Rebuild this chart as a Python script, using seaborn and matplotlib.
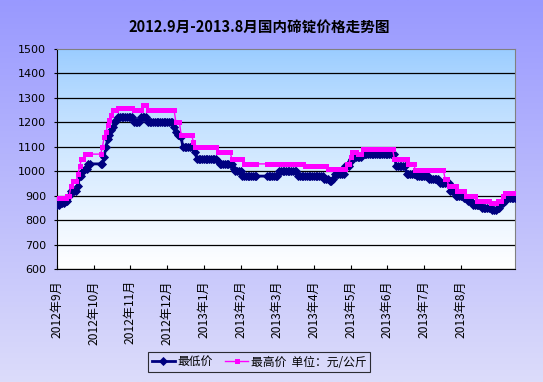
import numpy as np
import pandas as pd
import seaborn as sns
import matplotlib.pyplot as plt
from matplotlib.colors import LinearSegmentedColormap

# =========================
# 数据：按交易日，(价格, 持续天数)，NaN 为假期空缺
# =========================

month_labels = ["2012年9月", "2012年10月", "2012年11月", "2012年12月",
                "2013年1月", "2013年2月", "2013年3月", "2013年4月",
                "2013年5月", "2013年6月", "2013年7月", "2013年8月"]
days_per_tick = 21

low_vals = [860, 870, 880, 900, 920, 940, 980, 1000, 1010, 1030, np.nan, 1030,
            1060, 1100, 1130, 1150, 1170, 1180, 1200, 1210, 1220, 1200, 1220, 1200,
            1180, 1160, 1150, 1140, 1100, 1080, 1050, 1040, 1030, 1010, 1000, 980,
            np.nan, 980, 1000, 980, 970, 960, 970, 990, 1020, 1040, 1050, 1060,
            1070, 1020, 990, 980, 970, 950, 920, 900, 890, 880, 860, 850,
            840, 850, 870, 880, 890]
low_days = [2, 3, 2, 1, 4, 1, 2, 1, 2, 2, 5, 2,
            1, 1, 1, 1, 1, 1, 1, 1, 9, 4, 4, 15,
            1, 1, 2, 1, 7, 1, 12, 1, 8, 1, 4, 9,
            5, 7, 11, 15, 3, 2, 1, 6, 3, 1, 1, 5,
            19, 6, 6, 7, 6, 6, 3, 5, 2, 3, 5, 6,
            3, 2, 2, 1, 6]

high_vals = [890, 900, 940, 960, 990, 1020, 1050, 1070, np.nan, 1070, 1100, 1140,
             1160, 1190, 1210, 1230, 1250, 1260, 1250, 1270, 1250, 1200, 1150, 1120,
             1100, 1080, 1050, 1030, np.nan, 1030, 1020, 1010, 1030, 1060, 1080, 1070,
             1090, 1050, 1030, 1005, 970, 940, 920, 900, 880, 870, 880, 900, 910]
high_days = [6, 2, 1, 3, 1, 1, 2, 4, 5, 1, 1, 1,
             1, 1, 1, 1, 3, 9, 5, 3, 16, 3, 7, 1,
             13, 8, 7, 8, 5, 22, 13, 11, 2, 1, 3, 3,
             18, 8, 4, 17, 2, 5, 5, 6, 8, 4, 3, 1, 7]

low = np.repeat(np.array(low_vals, dtype=float), low_days)
high = np.repeat(np.array(high_vals, dtype=float), high_days)
n = len(low)

df = pd.DataFrame({"day": np.arange(n), "最低价": low, "最高价": high})

plt.rcParams["font.family"] = ["Noto Sans CJK SC", "DejaVu Sans"]
plt.rcParams["axes.unicode_minus"] = False

fig = plt.figure(figsize=(5.43, 3.82), dpi=100)

# 背景渐变
bg = fig.add_axes([0, 0, 1, 1], zorder=-10)
bg_cmap = LinearSegmentedColormap.from_list("bg", ["#9999FF", "#DCDCFA"])
bg.imshow(np.linspace(0, 1, 256).reshape(-1, 1), cmap=bg_cmap, aspect="auto",
          extent=[0, 1, 0, 1])
bg.set_axis_off()

ax = fig.add_axes([57 / 543, 1 - 269 / 382, 458 / 543, 220 / 382])
ax.set_facecolor("none")
plot_cmap = LinearSegmentedColormap.from_list("pa", ["#99CCFF", "#FFFFFF"])
ax.imshow(np.linspace(0, 1, 256).reshape(-1, 1) ** 0.8, cmap=plot_cmap, aspect="auto",
          extent=[0, n - 1, 600, 1500], zorder=0)

sns.lineplot(data=df.dropna(subset=["最低价"]), x="day", y="最低价", ax=ax,
             color="#000080", linewidth=2, marker="D", markersize=3.6,
             markeredgewidth=0.6, markeredgecolor="#000080",
             label="最低价", zorder=3)
sns.lineplot(data=df.dropna(subset=["最高价"]), x="day", y="最高价", ax=ax,
             color="#FF00FF", linewidth=1, marker="s", markersize=3.6,
             markeredgewidth=0, label="最高价  单位：元/公斤", zorder=4)

ax.set_xlim(0, n - 1)
ax.set_ylim(600, 1500)
ax.set_yticks(range(600, 1501, 100))
ax.set_xticks([i * days_per_tick for i in range(len(month_labels))])
ax.set_xticklabels(month_labels, rotation=90, fontsize=8.7)
for lab in ax.get_yticklabels():
    lab.set_fontfamily("DejaVu Sans")
    lab.set_fontsize(8)
ax.tick_params(axis="x", direction="in", length=3, pad=8, color="black")
ax.tick_params(axis="y", direction="out", length=2, pad=6, color="black")
ax.grid(axis="y", color="black", linewidth=0.9, zorder=1)
ax.yaxis.get_gridlines()[-1].set_visible(False)
ax.set_xlabel("")
ax.set_ylabel("")

for side in ["left", "bottom"]:
    ax.spines[side].set_color("black")
for side in ["top", "right"]:
    ax.spines[side].set_color("#808080")

ax.legend_.remove()
handles, labels = ax.get_legend_handles_labels()
leg = fig.legend(handles, labels, loc="center", bbox_to_anchor=(259 / 543, 1 - 362 / 382),
                 ncol=2, frameon=True, fancybox=False, edgecolor="black",
                 facecolor="none", fontsize=8.5, handlelength=2.0,
                 handletextpad=0.2, columnspacing=1.0, borderpad=0.3)
leg.get_frame().set_linewidth(0.8)

fig.text(259 / 543, 1 - 27 / 382, "2012.9月-2013.8月国内碲锭价格走势图",
         ha="center", va="center", fontsize=10.5, fontweight="bold")

fig.savefig("out.png", dpi=100)
